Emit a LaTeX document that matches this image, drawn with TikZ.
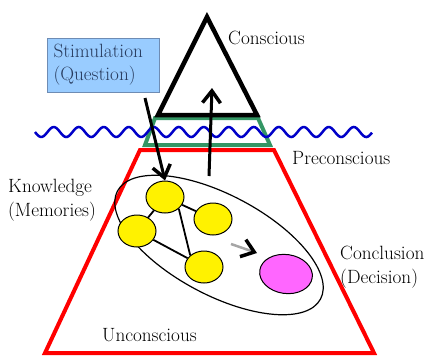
\documentclass[tikz,border=0pt]{standalone}
\usetikzlibrary{shapes.geometric,arrows.meta}
\definecolor{wavec}{RGB}{0,0,200}
\definecolor{greenc}{RGB}{51,150,100}
\definecolor{boxfill}{RGB}{153,204,255}
\definecolor{boxdraw}{RGB}{110,140,180}
\definecolor{boxtext}{RGB}{40,60,95}
\definecolor{magc}{RGB}{255,102,255}
\tikzset{
  lbl/.style={inner sep=0pt, anchor=west, align=left, font=\fontsize{19.2}{23.5}\selectfont},
  memory/.style={draw=black, line width=1pt, fill=yellow, ellipse, minimum width=38pt, minimum height=32pt, inner sep=0pt},
  link/.style={line width=1.8pt},
  bigarrow/.style={line width=3pt, -{Straight Barb[length=12pt,width=18pt,line width=3.5pt]}},
}
\begin{document}
\begin{tikzpicture}[x=1pt,y=-1pt]
\useasboundingbox (0,0) rectangle (428,360);
% levels
\draw[red, line width=4pt, line join=miter] (140,150) -- (274,150) -- (374,353) -- (45,353) -- cycle;
\draw[greenc, line width=4pt] (155,118) -- (258,118) -- (270,145) -- (145,145) -- cycle;
\draw[black, line width=4.5pt, line join=miter] (207,17) -- (257,115) -- (158,115) -- cycle;
% water line
\draw[wavec, line width=2.5pt, domain=35:372, samples=240, smooth] plot (\x, {132+5*sin(14.4*(\x-35))});
% labels
\node[lbl] (consc) at (228,38) {Conscious};
\node[lbl] (precon) at (292,158) {Preconscious};
\node[lbl] (know) at (8,200) {Knowledge\\(Memories)};
\node[lbl] (concl) at (340,267) {Conclusion\\(Decision)};
\node[lbl] (uncon) at (102,335) {Unconscious};
% stimulation box
\node[draw=boxdraw, line width=1pt, fill=boxfill, minimum width=112pt, minimum height=54pt, inner xsep=6pt, align=left, text=boxtext, font=\fontsize{19.2}{23}\selectfont, text width=99pt] (stim) at (103,65) {Stimulation\\(Question)};
% big ellipse
\node[draw, line width=1.2pt, ellipse, minimum width=230pt, minimum height=100pt, inner sep=0pt, rotate=-28] (mind) at (219,245) {};
% memories
\node[memory] (m1) at (165,197) {};
\node[memory] (m2) at (137,231) {};
\node[memory] (m3) at (213,219) {};
\node[memory] (m4) at (204,267) {};
\node[draw=black, line width=1pt, fill=magc, ellipse, minimum width=53pt, minimum height=39pt, inner sep=0pt, rotate=-8] (dec) at (286,274) {};
\draw[link] (m1) -- (m2);
\draw[link] (m1) -- (m3);
\draw[link] (m1.south east) -- (m4.north west);
\draw[link] (m2) -- (m4);
% small arrow
\coordinate (sa1) at (231,244);
\coordinate (sa2) at (257,253);
\draw[gray!70, line width=2.5pt, -{Straight Barb[color=black,length=12pt,width=18pt,line width=3.5pt]}] (sa1) -- (sa2);
% stimulation arrow
\coordinate (st1) at (145,98);
\draw[bigarrow] (st1) -- (m1.north);
% upward arrow
\coordinate (ub) at (209,176);
\coordinate (ut) at (212,88);
\draw[bigarrow] (ub) -- (ut);
\end{tikzpicture}
\end{document}
